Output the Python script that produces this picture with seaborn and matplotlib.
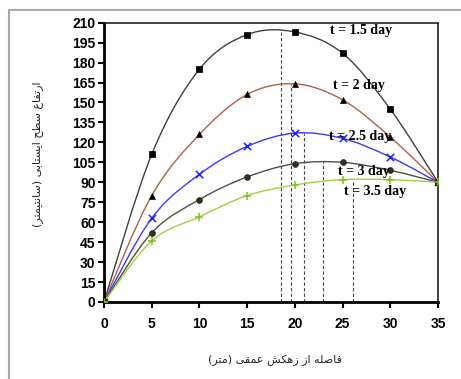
import numpy as np
import pandas as pd
import matplotlib
matplotlib.use('Agg')
import matplotlib.pyplot as plt
import seaborn as sns
from matplotlib.path import Path
from matplotlib.patches import PathPatch
from matplotlib.lines import Line2D

# distance from drain (m) and water table height (cm)
distance = [0, 5, 10, 15, 20, 25, 30, 35]
h_15 = [0, 111, 175, 201, 203, 187, 145, 90]
h_20 = [0, 80, 126, 156, 164, 152, 124, 90]
h_25 = [0, 63, 96, 117, 127, 123, 109, 90]
h_30 = [0, 52, 77, 94, 104, 105, 99, 90]
h_35 = [0, 46, 64, 80, 88, 92, 92, 90]
series_names = ['t = 1.5 day', 't = 2 day', 't = 2.5 day', 't = 3 day', 't = 3.5 day']

# peaks marked with dashed lines
peak_x = [18.5, 19.6, 21.0, 23.0, 26.1]
peak_y = [205, 164, 127, 105, 92]

# label anchor points (data coords)
label_x = [23.7, 24.0, 23.6, 24.5, 25.1]
label_y = [204, 162.5, 124.5, 98, 83]

ylabel_txt = 'ارتفاع سطح ایستابی (سانتیمتر)'
xlabel_txt = 'فاصله از زهکش عمقی (متر)'

# --- minimal persian shaping (matplotlib has no bidi/joining) ---
forms = {
    'ا': ('\uFE8D', '\uFE8E', None, None),
    'ر': ('\uFEAD', '\uFEAE', None, None),
    'ز': ('\uFEAF', '\uFEB0', None, None),
    'ب': ('\uFE8F', '\uFE90', '\uFE91', '\uFE92'),
    'ت': ('\uFE95', '\uFE96', '\uFE97', '\uFE98'),
    'ح': ('\uFEA1', '\uFEA2', '\uFEA3', '\uFEA4'),
    'س': ('\uFEB1', '\uFEB2', '\uFEB3', '\uFEB4'),
    'ش': ('\uFEB5', '\uFEB6', '\uFEB7', '\uFEB8'),
    'ص': ('\uFEB9', '\uFEBA', '\uFEBB', '\uFEBC'),
    'ط': ('\uFEC1', '\uFEC2', '\uFEC3', '\uFEC4'),
    'ع': ('\uFEC9', '\uFECA', '\uFECB', '\uFECC'),
    'ف': ('\uFED1', '\uFED2', '\uFED3', '\uFED4'),
    'ق': ('\uFED5', '\uFED6', '\uFED7', '\uFED8'),
    'ل': ('\uFEDD', '\uFEDE', '\uFEDF', '\uFEE0'),
    'م': ('\uFEE1', '\uFEE2', '\uFEE3', '\uFEE4'),
    'ن': ('\uFEE5', '\uFEE6', '\uFEE7', '\uFEE8'),
    'ه': ('\uFEE9', '\uFEEA', '\uFEEB', '\uFEEC'),
    'ی': ('\uFBFC', '\uFBFD', '\uFBFE', '\uFBFF'),
    'ک': ('\uFB8E', '\uFB8F', '\uFB90', '\uFB91'),
}


def shape(s):
    out = []
    for i, c in enumerate(s):
        if c not in forms:
            out.append(c)
            continue
        iso, fin, ini, med = forms[c]
        prev = s[i - 1] if i > 0 else ''
        nxt = s[i + 1] if i + 1 < len(s) else ''
        jp = prev in forms and forms[prev][2] is not None
        jn = ini is not None and nxt in forms
        if jp and jn:
            out.append(med)
        elif jp:
            out.append(fin)
        elif jn:
            out.append(ini)
        else:
            out.append(iso)
    return ''.join(out)[::-1].translate(str.maketrans('()', ')('))


def smooth_path(x, y):
    # excel-like smoothed line (catmull-rom as cubic bezier)
    pts = np.column_stack([x, y]).astype(float)
    n = len(pts)
    verts = [pts[0]]
    codes = [Path.MOVETO]
    for i in range(n - 1):
        p0 = pts[max(i - 1, 0)]
        p1 = pts[i]
        p2 = pts[i + 1]
        p3 = pts[min(i + 2, n - 1)]
        verts += [p1 + (p2 - p0) / 6, p2 - (p3 - p1) / 6, p2]
        codes += [Path.CURVE4] * 3
    return Path(verts, codes)


sns.set_style('ticks')

df = pd.DataFrame({'distance': distance * 5,
                   'height': h_15 + h_20 + h_25 + h_30 + h_35,
                   'series': np.repeat(series_names, len(distance))})

line_colors = ['#404040', '#b0604a', '#3a3aff', '#505040', '#a0d040']
mark_colors = ['#000000', '#000000', '#2020ff', '#303020', '#80c020']
markers = ['s', '^', 'x', 'o', '+']

fig = plt.figure(figsize=(4.61, 3.79), dpi=100)
ax = fig.add_axes([0.2256, 0.2032, 0.7245, 0.737])

for k, name in enumerate(series_names):
    d = df[df.series == name]
    ax.add_patch(PathPatch(smooth_path(d.distance, d.height), fill=False,
                           edgecolor=line_colors[k], lw=1.0, zorder=2))
    if markers[k] in ('x', '+'):
        sns.scatterplot(x=d.distance, y=d.height, marker=markers[k], color=mark_colors[k],
                        s=28, linewidth=1.1, ax=ax, zorder=3, legend=False)
    else:
        sns.scatterplot(x=d.distance, y=d.height, marker=markers[k], color=mark_colors[k],
                        edgecolor=mark_colors[k], s=18, linewidth=0.5, ax=ax, zorder=3, legend=False)
    ax.text(label_x[k], label_y[k], name, ha='left', va='center', fontsize=10,
            family='Liberation Serif', fontweight='bold', color='black', zorder=4)

ax.vlines(peak_x, 0, peak_y, colors='#444444', linestyles=(0, (3, 2)), lw=0.8, zorder=1)

ax.set_xlim(0, 35)
ax.set_ylim(0, 210)
ax.set_xticks(range(0, 36, 5))
ax.set_yticks(range(0, 211, 15))
ax.set_xlabel('')
ax.set_ylabel('')
for lab in ax.get_xticklabels() + ax.get_yticklabels():
    lab.set_family('Liberation Sans')
    lab.set_fontweight('bold')
    lab.set_fontsize(10)
ax.tick_params(axis='both', direction='out', length=4, width=1.5, colors='black')
ax.tick_params(axis='x', pad=7)
ax.tick_params(axis='y', pad=2)
for s in ['left', 'bottom']:
    ax.spines[s].set_linewidth(2)
    ax.spines[s].set_color('black')
for s in ['top', 'right']:
    ax.spines[s].set_visible(True)
    ax.spines[s].set_linewidth(1.2)
    ax.spines[s].set_color('#222222')

fig.text(38 / 461, 1 - 154 / 379, shape(ylabel_txt), rotation=90, ha='center', va='center',
         fontsize=8, family='DejaVu Sans')
fig.text(275 / 461, 1 - 360 / 379, shape(xlabel_txt), ha='center', va='center',
         fontsize=8, family='DejaVu Sans')

# grey frame around the figure (left and top only)
fig.add_artist(Line2D([9 / 461, 9 / 461, 1], [0, 1 - 10 / 379, 1 - 10 / 379],
                      transform=fig.transFigure, color='#a8a8a8', lw=1.5))

fig.savefig('out.png', dpi=100)
